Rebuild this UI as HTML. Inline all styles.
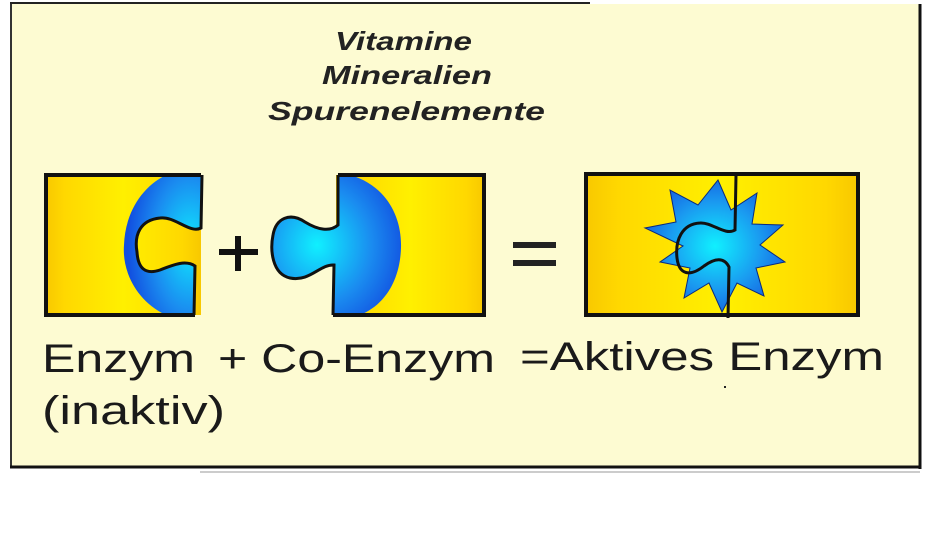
<!DOCTYPE html>
<html><head><meta charset="utf-8"><style>
html,body{margin:0;padding:0;background:#fff;width:940px;height:559px;overflow:hidden}
svg{display:block}
</style></head><body>
<svg width="940" height="559" viewBox="0 0 940 559" xmlns="http://www.w3.org/2000/svg">
<defs>
<linearGradient id="yel" x1="0" x2="1" y1="0" y2="0">
<stop offset="0" stop-color="#f8c800"/><stop offset="0.12" stop-color="#ffd800"/><stop offset="0.5" stop-color="#fff000"/><stop offset="0.88" stop-color="#ffd800"/><stop offset="1" stop-color="#f8c800"/>
</linearGradient>
<radialGradient id="blu1" cx="0.85" cy="0.5" r="0.8">
<stop offset="0" stop-color="#10e8ff"/><stop offset="0.6" stop-color="#1a8cf0"/><stop offset="1" stop-color="#1250e0"/>
</radialGradient>
<radialGradient id="blu2" cx="0.35" cy="0.5" r="0.7">
<stop offset="0" stop-color="#10f0ff"/><stop offset="0.6" stop-color="#1a8cf0"/><stop offset="1" stop-color="#1250e0"/>
</radialGradient>
<radialGradient id="blu3" cx="0.5" cy="0.5" r="0.55">
<stop offset="0" stop-color="#10f0ff"/><stop offset="0.6" stop-color="#1a9af0"/><stop offset="1" stop-color="#1560e0"/>
</radialGradient>
</defs>
<rect x="0" y="0" width="940" height="559" fill="#fff"/>
<line x1="10" y1="3" x2="590" y2="3" stroke="#222" stroke-width="2"/>
<rect x="10" y="4" width="910" height="463" fill="#fdfbd2"/>
<line x1="11" y1="4" x2="11" y2="468" stroke="#333" stroke-width="2"/>
<line x1="920" y1="4" x2="920" y2="469" stroke="#111" stroke-width="3"/>
<line x1="10" y1="467" x2="921" y2="467" stroke="#111" stroke-width="3"/>
<line x1="200" y1="472" x2="920" y2="472" stroke="#bbb" stroke-width="1.5"/>

<g font-family="Liberation Sans, sans-serif" font-weight="bold" font-style="italic" font-size="26" fill="#222">
<text x="335" y="50" textLength="137" lengthAdjust="spacingAndGlyphs">Vitamine</text>
<text x="322" y="84" textLength="170" lengthAdjust="spacingAndGlyphs">Mineralien</text>
<text x="268" y="120" textLength="277" lengthAdjust="spacingAndGlyphs">Spurenelemente</text>
</g>

<!-- Box 1 -->
<rect x="46" y="175" width="155" height="140" fill="url(#yel)"/>
<path d="M166,175 L202,175 L201,228 C190,234 175,216 160,218 C140,220 134,235 137,252 C138,268 145,275 160,270 C175,264 186,260 195,266 L194,315 L166,315 C135,300 122,270 124,245 C125,215 140,188 166,175 Z" fill="url(#blu1)"/>
<path d="M202,175 L201,228 C190,234 175,216 160,218 C140,220 134,235 137,252 C138,268 145,275 160,270 C175,264 186,260 195,266 L194,315" fill="none" stroke="#111" stroke-width="3"/>
<path d="M201,175 L46,175 L46,315 L195,315" fill="none" stroke="#111" stroke-width="4"/>

<!-- plus -->
<path d="M219,252 H258 M238,236 V271" stroke="#111" stroke-width="6"/>

<!-- Box 2 -->
<rect x="336" y="175" width="148" height="140" fill="url(#yel)"/>
<path d="M338,175 L350,175 C385,185 402,215 401,248 C400,280 385,305 360,315 L333,315 L334,265 C320,264 310,282 290,278 C272,274 270,250 273,235 C276,218 290,212 305,222 C318,230 330,232 338,225 Z" fill="url(#blu2)"/>
<path d="M333,315 L334,265 C320,264 310,282 290,278 C272,274 270,250 273,235 C276,218 290,212 305,222 C318,230 330,232 338,225 L338,175" fill="none" stroke="#111" stroke-width="3"/>
<path d="M338,175 L484,175 L484,315 L333,315" fill="none" stroke="#111" stroke-width="4"/>

<!-- equals -->
<path d="M513,245 H556 M513,263 H556" stroke="#222" stroke-width="6"/>

<!-- Box 3 -->
<rect x="586" y="174" width="272" height="141" fill="url(#yel)" stroke="#111" stroke-width="4"/>
<polygon fill="url(#blu3)" stroke="#0a2a80" stroke-width="1" points="718,180 731,210 757,193 752,224 783,225 760,245 785,262 756,268 764,296 737,283 722,312 709,283 684,298 690,268 660,262 683,246 645,228 676,222 670,190 698,205"/>
<path d="M736,175 L735,230 C725,236 712,222 700,223 C682,224 675,240 677,258 C679,275 690,277 704,266 C715,258 724,257 729,267 L728,318" fill="none" stroke="#111" stroke-width="3"/>

<g font-family="Liberation Sans, sans-serif" font-size="40" fill="#1a1a1a">
<text x="42" y="372" textLength="153" lengthAdjust="spacingAndGlyphs">Enzym</text>
<text x="218" y="372" textLength="277" lengthAdjust="spacingAndGlyphs">+ Co-Enzym</text>
<text x="520" y="370" textLength="364" lengthAdjust="spacingAndGlyphs">=Aktives Enzym</text>
<text x="42" y="424" textLength="183" lengthAdjust="spacingAndGlyphs">(inaktiv)</text>
</g>
<rect x="724" y="386" width="2" height="2" fill="#222"/>
</svg>
</body></html>
